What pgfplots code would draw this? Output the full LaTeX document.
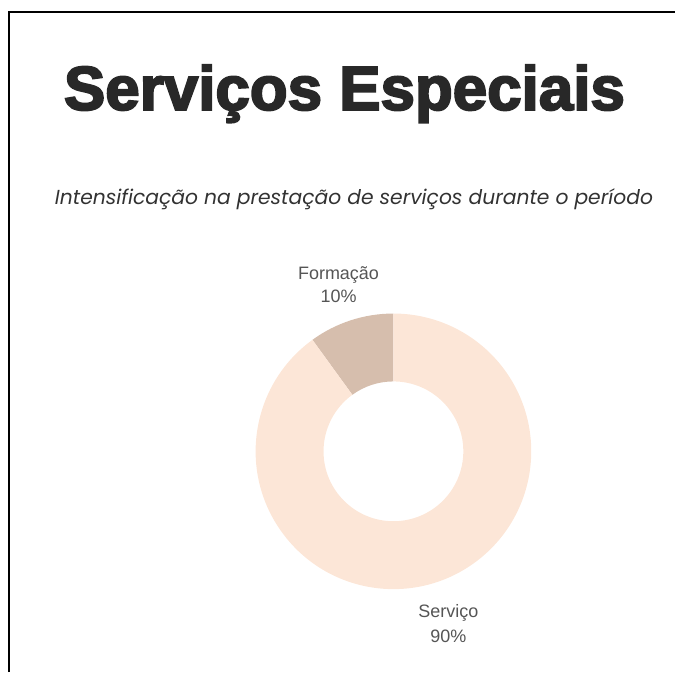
\documentclass[border=0pt]{standalone}
\usepackage{pgfplots}
\pgfplotsset{compat=1.18}
\usepackage{pgfplotstable}
\usepackage{fontspec}
\setmainfont{Liberation Sans}
\newfontfamily\titlefont[BoldFeatures={FakeBold=3.2}]{Liberation Sans}
\newfontfamily\subfont{Poppins}
\definecolor{servc}{RGB}{252,230,215}
\definecolor{formc}{RGB}{214,190,173}
\definecolor{titlec}{RGB}{40,40,40}
\definecolor{subc}{RGB}{50,50,50}
\definecolor{labc}{RGB}{85,85,85}
\pgfplotstableread{
label value
Formacao 10
Servico 90
}\donutdata
\begin{document}
\begin{tikzpicture}
\pgfplotstablegetelem{0}{value}\of\donutdata \let\va\pgfplotsretval
\pgfplotstablegetelem{1}{value}\of\donutdata \let\vb\pgfplotsretval
\pgfmathsetmacro\angA{90+360*\va/(\va+\vb)}
\begin{axis}[
  anchor=origin, at={(0,0)},
  x=1pt, y=1pt,
  xmin=0, xmax=676, ymin=0, ymax=673,
  hide axis, clip=false,
]
\path (axis cs:0,0) rectangle (axis cs:676,673);
% border
\draw[line width=2pt, black] (axis cs:9,0) -- (axis cs:9,660.5) -- (axis cs:676,660.5);
% donut slices
\fill[formc] ([shift={(90:138pt)}]axis cs:394,221) arc[start angle=90, end angle=\angA, radius=138pt]
  -- ([shift={(\angA:70pt)}]axis cs:394,221) arc[start angle=\angA, end angle=90, radius=70pt] -- cycle;
\fill[servc] ([shift={(\angA:138pt)}]axis cs:394,221) arc[start angle=\angA, end angle=450, radius=138pt]
  -- ([shift={(450:70pt)}]axis cs:394,221) arc[start angle=450, end angle=\angA, radius=70pt] -- cycle;
% titles
\node[anchor=base, text=titlec, inner sep=0pt] at (axis cs:345,563)
  {\titlefont\bfseries\fontsize{62}{74}\selectfont Serviços Especiais};
\node[anchor=base, text=subc, inner sep=0pt] at (axis cs:354.5,468)
  {\subfont\itshape\fontsize{20.3}{24}\selectfont Intensificação na prestação de serviços durante o período};
% labels
\node[anchor=base, text=labc, inner sep=0pt] at (axis cs:339,393) {\fontsize{18}{21}\selectfont Formação};
\node[anchor=base, text=labc, inner sep=0pt] at (axis cs:339,370) {\fontsize{18}{21}\selectfont 10\%};
\node[anchor=base, text=labc, inner sep=0pt] at (axis cs:449,55) {\fontsize{18}{21}\selectfont Serviço};
\node[anchor=base, text=labc, inner sep=0pt] at (axis cs:449,30) {\fontsize{18}{21}\selectfont 90\%};
\end{axis}
\end{tikzpicture}
\end{document}
